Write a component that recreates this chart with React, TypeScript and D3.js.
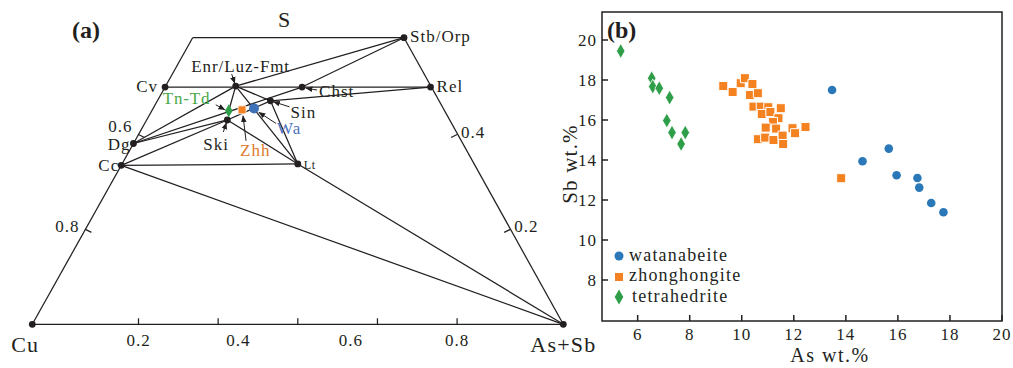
import React from "react";
import * as d3 from "d3";

// ---------- Panel (a) data: ternary Cu – S – (As+Sb) ----------
// a = As+Sb fraction, s = S fraction
const phaseNames = ["TL", "Cv", "Enr", "Chst", "Rel", "Stb", "Sin", "Ski", "Dg", "Cc", "Lt", "AsSb", "Cu"];
const phaseA = [0, 0, 0.132, 0.258, 0.5, 0.398, 0.213, 0.152, 0, 0, 0.331, 1, 0];
const phaseS = [0.604, 0.5, 0.502, 0.5, 0.5, 0.604, 0.471, 0.4306, 0.381, 0.335, 0.338, 0, 0];
const tieFrom = ["Cu", "Cu", "TL", "Stb", "Cv", "Cc", "Cc", "Lt", "Enr", "Chst", "Sin", "Dg", "Dg", "Dg", "Enr", "Enr", "Sin", "Ski", "Ski", "Cc", "Enr"];
const tieTo = ["AsSb", "TL", "Stb", "AsSb", "Rel", "Lt", "AsSb", "AsSb", "Stb", "Stb", "Rel", "Enr", "Chst", "Ski", "Lt", "Sin", "Lt", "Lt", "Sin", "Ski", "TnTd"];
// sample compositions (a, s)
const sampleNames = ["Tn-Td", "Zhh", "Wa"];
const sampleA = [0.145, 0.169, 0.19];
const sampleS = [0.45, 0.452, 0.455];
const bottomTicks = [0.2, 0.35, 0.5, 0.65, 0.8];
const bottomTickLabelPos = [0.2, 0.388, 0.6, 0.8];
const bottomTickLabels = ["0.2", "0.4", "0.6", "0.8"];
const leftTicks = [0.2, 0.4];
const leftTickLabels = ["0.8", "0.6"];
const rightTicks = [0.2, 0.4];
const rightTickLabels = ["0.2", "0.4"];

// ---------- Panel (b) data ----------
const waAs = [13.47, 15.65, 14.64, 15.95, 16.75, 16.82, 17.28, 17.75];
const waSb = [17.5, 14.57, 13.94, 13.24, 13.1, 12.62, 11.85, 11.39];
const zhAs = [9.29, 9.65, 9.96, 10.12, 10.41, 10.32, 10.62, 10.45, 10.73, 11.02, 11.5, 10.77, 11.1, 11.41, 11.2, 10.92, 11.32, 11.95, 12.45, 12.05, 10.62, 10.9, 11.22, 11.57, 11.59, 13.82];
const zhSb = [17.7, 17.4, 17.84, 18.09, 17.8, 17.25, 17.34, 16.67, 16.67, 16.64, 16.59, 16.3, 16.4, 16.09, 15.9, 15.62, 15.57, 15.59, 15.65, 15.34, 15.04, 15.12, 15.0, 15.22, 14.8, 13.09];
const tdAs = [5.35, 6.54, 6.58, 6.83, 7.23, 7.12, 7.32, 7.83, 7.67];
const tdSb = [19.45, 18.09, 17.67, 17.59, 17.12, 15.97, 15.37, 15.37, 14.8];
const xTicks = [6, 8, 10, 12, 14, 16, 18, 20];
const yTicks = [8, 10, 12, 14, 16, 18, 20];
const legendLabels = ["watanabeite", "zhonghongite", "tetrahedrite"];

const INK = "#231f20";
const BLUE = "#2a78b8";
const ORANGE = "#f58220";
const GREEN = "#2e9e48";
const FONT = "'Liberation Serif', 'Times New Roman', serif";

export default function App() {
  // ternary scales
  const x0 = 32.3, y0 = 324.3;
  const aScale = d3.scaleLinear().domain([0, 1]).range([0, 531]);
  const sScale = d3.scaleLinear().domain([0, 1]).range([0, 474.5]);
  const proj = (a: number, s: number): [number, number] => [
    x0 + aScale(a) + aScale(s) / 2,
    y0 - sScale(s),
  ];
  const P: Record<string, [number, number]> = {};
  phaseNames.forEach((n, i) => (P[n] = proj(phaseA[i], phaseS[i])));
  P["TnTd"] = proj(sampleA[0], sampleS[0]);
  const SP = sampleNames.map((_, i) => proj(sampleA[i], sampleS[i]));

  // scatter scales
  const xs = d3.scaleLinear().domain([4.63, 20]).range([602, 1002]);
  const ys = d3.scaleLinear().domain([5.95, 21.4]).range([321, 12]);
  const sq = d3.symbol().type(d3.symbolSquare).size(82)() as string;
  const dia = d3.symbol().type(d3.symbolDiamond).size(64)() as string;
  const sqSmall = d3.symbol().type(d3.symbolSquare).size(64)() as string;
  const diaSmall = d3.symbol().type(d3.symbolDiamond).size(50)() as string;

  const arrow = (x1: number, y1: number, x2: number, y2: number, key: string) => (
    <line key={key} x1={x1} y1={y1} x2={x2} y2={y2} stroke={INK} strokeWidth={1} markerEnd="url(#ah)" />
  );
  const FS = 17;

  return (
    <svg width={1013} height={368} style={{ position: "absolute", left: 0, top: 0 }} fontFamily={FONT}>
      <defs>
        <marker id="ah" viewBox="0 0 10 10" refX="9" refY="5" markerWidth="7" markerHeight="7" orient="auto-start-reverse" markerUnits="userSpaceOnUse">
          <path d="M0,1 L10,5 L0,9 z" fill={INK} />
        </marker>
      </defs>
      <rect width={1013} height={368} fill="#fff" />

      {/* ---------------- Panel (a) ---------------- */}
      <g>
        {tieFrom.map((f, i) => (
          <line key={"t" + i} x1={P[f][0]} y1={P[f][1]} x2={P[tieTo[i]][0]} y2={P[tieTo[i]][1]} stroke={INK} strokeWidth={1.25} />
        ))}
        {bottomTicks.map((t, i) => {
          const p = proj(t, 0);
          return <line key={"bt" + i} x1={p[0]} y1={p[1]} x2={p[0]} y2={p[1] - 6} stroke={INK} strokeWidth={1.25} />;
        })}
        {bottomTickLabelPos.map((t, i) => {
          const p = proj(t, 0);
          return (
            <text key={"bl" + i} x={p[0]} y={p[1] + 22} textAnchor="middle" fontSize={FS} fill={INK} letterSpacing={1}>
              {bottomTickLabels[i]}
            </text>
          );
        })}
        {leftTicks.map((t, i) => {
          const p = proj(0, t);
          return (
            <g key={"lt" + i}>
              <line x1={p[0]} y1={p[1]} x2={p[0] + 6} y2={p[1] + 3} stroke={INK} strokeWidth={1.25} />
              <text x={p[0] - 6} y={p[1] + (i === 1 ? -3 : 3)} textAnchor="end" fontSize={FS} fill={INK} letterSpacing={1}>
                {leftTickLabels[i]}
              </text>
            </g>
          );
        })}
        {rightTicks.map((t, i) => {
          const p = proj(1 - t, t);
          return (
            <g key={"rt" + i}>
              <line x1={p[0]} y1={p[1]} x2={p[0] - 6} y2={p[1] + 3} stroke={INK} strokeWidth={1.25} />
              <text x={p[0] + 4} y={p[1] + 3} textAnchor="start" fontSize={FS} fill={INK} letterSpacing={1}>
                {rightTickLabels[i]}
              </text>
            </g>
          );
        })}
        {phaseNames.filter((n) => n !== "TL").map((n) => (
          <circle key={"p" + n} cx={P[n][0]} cy={P[n][1]} r={3.4} fill={INK} />
        ))}
        {/* samples */}
        <path d={diaSmall} transform={`translate(${SP[0][0]},${SP[0][1]})`} fill={GREEN} />
        <path d={sqSmall} transform={`translate(${SP[1][0]},${SP[1][1]})`} fill={ORANGE} stroke="#fff" strokeWidth={0.8} />
        <circle cx={SP[2][0]} cy={SP[2][1]} r={5} fill="#3f72b8" />

        {/* arrows */}
        {arrow(P.Enr[0] - 4, P.Enr[1] - 12, P.Enr[0] - 1, P.Enr[1] - 3, "aE")}
        {arrow(P.Chst[0] + 15, P.Chst[1] + 3, P.Chst[0] + 4, P.Chst[1] + 1, "aC")}
        {arrow(P.Sin[0] + 19, P.Sin[1] + 6, P.Sin[0] + 3, P.Sin[1] + 1, "aS")}
        {arrow(SP[2][0] + 22, SP[2][1] + 15, SP[2][0] + 5, SP[2][1] + 4, "aW")}
        {arrow(SP[1][0] + 4, SP[1][1] + 31, SP[1][0] + 1, SP[1][1] + 6, "aZ")}
        {arrow(P.Ski[0] - 4, P.Ski[1] + 12, P.Ski[0] - 1, P.Ski[1] + 3, "aK")}
        {arrow(SP[0][0] - 13, SP[0][1] - 6, SP[0][0] - 4, SP[0][1] - 1, "aT")}

        {/* labels */}
        <text x={P.Enr[0] + 5} y={P.Enr[1] - 14} textAnchor="middle" fontSize={FS} fill={INK} letterSpacing={0.9}>Enr/Luz-Fmt</text>
        <text x={P.Cv[0] - 7} y={P.Cv[1] + 5} textAnchor="end" fontSize={FS} fill={INK} letterSpacing={1}>Cv</text>
        <text x={P.Chst[0] + 17} y={P.Chst[1] + 10} fontSize={FS} fill={INK} letterSpacing={1}>Chst</text>
        <text x={P.Rel[0] + 6} y={P.Rel[1] + 5} fontSize={FS} fill={INK} letterSpacing={1}>Rel</text>
        <text x={P.Stb[0] + 6} y={P.Stb[1] + 4} fontSize={FS} fill={INK} letterSpacing={1}>Stb/Orp</text>
        <text x={P.Sin[0] + 20} y={P.Sin[1] + 17} fontSize={FS} fill={INK} letterSpacing={1}>Sin</text>
        <text x={P.Ski[0] - 24} y={P.Ski[1] + 30} fontSize={FS} fill={INK} letterSpacing={1}>Ski</text>
        <text x={P.Dg[0] - 3} y={P.Dg[1] + 6} textAnchor="end" fontSize={FS} fill={INK} letterSpacing={1}>Dg</text>
        <text x={P.Cc[0] - 2} y={P.Cc[1] + 6} textAnchor="end" fontSize={FS} fill={INK} letterSpacing={1}>Cc</text>
        <text x={P.Lt[0] + 6} y={P.Lt[1] + 5} fontSize={12} fill={INK} letterSpacing={0.5}>Lt</text>
        <text x={SP[0][0] - 66} y={SP[0][1] - 7} fontSize={FS} fill="#4aa84a" letterSpacing={0.8}>{sampleNames[0]}</text>
        <text x={SP[1][0] - 2} y={SP[1][1] + 46} fontSize={FS} fill="#e07a2c" letterSpacing={1}>{sampleNames[1]}</text>
        <text x={SP[2][0] + 23} y={SP[2][1] + 26} fontSize={FS} fill="#4a72c0" letterSpacing={1}>{sampleNames[2]}</text>

        <text x={x0 - 21} y={y0 + 28} fontSize={22} fill={INK} letterSpacing={1}>Cu</text>
        <text x={P.AsSb[0] - 33} y={P.AsSb[1] + 28} fontSize={22} fill={INK} letterSpacing={1.2}>As+Sb</text>
        <text x={284} y={27} textAnchor="middle" fontSize={22} fill={INK}>S</text>
        <text x={72} y={38} fontSize={24} fontWeight="bold" fill={INK}>(a)</text>
      </g>

      {/* ---------------- Panel (b) ---------------- */}
      <g>
        <rect x={602} y={12} width={400} height={309} fill="none" stroke={INK} strokeWidth={1.5} />
        {xTicks.map((t) => (
          <g key={"xt" + t}>
            <line x1={xs(t)} x2={xs(t)} y1={321} y2={315} stroke={INK} strokeWidth={1.5} />
            <text x={xs(t)} y={340} textAnchor="middle" fontSize={FS} fill={INK} letterSpacing={1}>{t}</text>
          </g>
        ))}
        {yTicks.map((t) => (
          <g key={"yt" + t}>
            <line x1={602} x2={608} y1={ys(t)} y2={ys(t)} stroke={INK} strokeWidth={1.5} />
            <text x={597} y={ys(t) + 6} textAnchor="end" fontSize={FS} fill={INK} letterSpacing={1}>{t}</text>
          </g>
        ))}
        <text x={830} y={362} textAnchor="middle" fontSize={20} fill={INK} letterSpacing={1.5}>As wt.%</text>
        <text transform="translate(577,164) rotate(-90)" textAnchor="middle" fontSize={21} fill={INK} letterSpacing={1.2}>Sb wt.%</text>
        <text x={607} y={38} fontSize={24} fontWeight="bold" fill={INK}>(b)</text>

        {tdAs.map((v, i) => (
          <path key={"td" + i} d={dia} transform={`translate(${xs(v)},${ys(tdSb[i])})`} fill={GREEN} stroke="#fff" strokeWidth={0.8} />
        ))}
        {zhAs.map((v, i) => (
          <path key={"zh" + i} d={sq} transform={`translate(${xs(v)},${ys(zhSb[i])})`} fill={ORANGE} stroke="#fff" strokeWidth={1} />
        ))}
        {waAs.map((v, i) => (
          <circle key={"wa" + i} cx={xs(v)} cy={ys(waSb[i])} r={4.3} fill={BLUE} />
        ))}

        {/* legend */}
        <circle cx={619} cy={256} r={4.5} fill={BLUE} />
        <path d={sqSmall} transform="translate(619,277)" fill={ORANGE} />
        <path d={dia} transform="translate(619,297)" fill={GREEN} />
        <text x={629} y={261} fontSize={18} fill={INK} letterSpacing={1.2}>{legendLabels[0]}</text>
        <text x={629} y={281} fontSize={18} fill={INK} letterSpacing={1.2}>{legendLabels[1]}</text>
        <text x={632} y={302} fontSize={18} fill={INK} letterSpacing={1.2}>{legendLabels[2]}</text>
      </g>
    </svg>
  );
}
